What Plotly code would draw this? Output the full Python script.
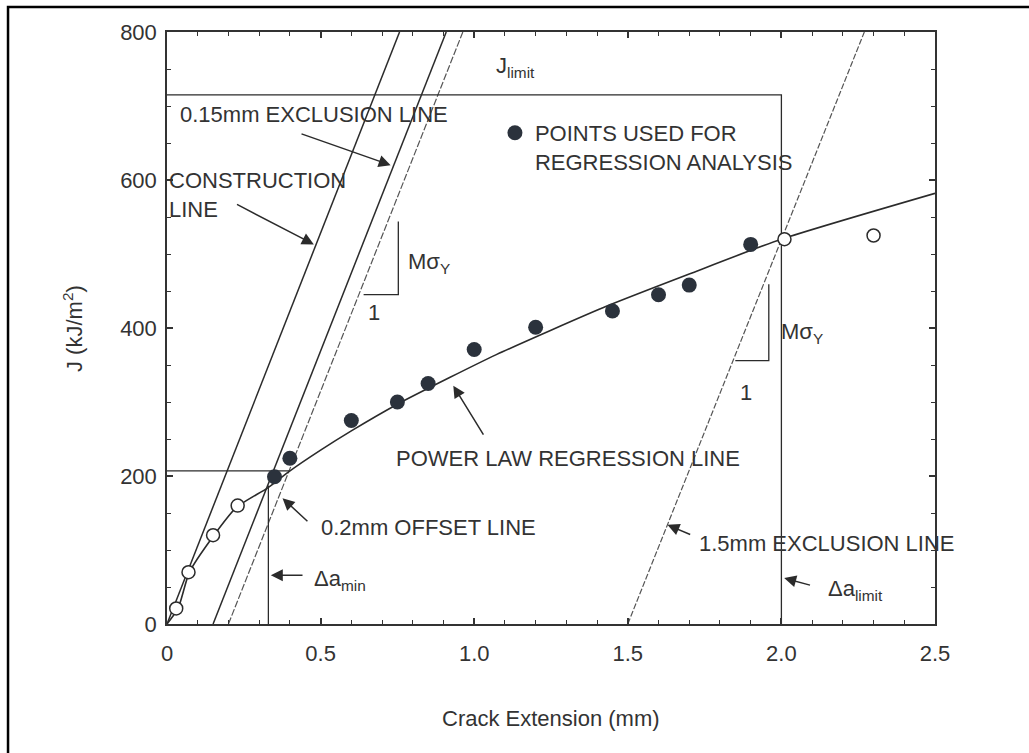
import plotly.graph_objects as go

# values
x_ticks = [0, 0.5, 1.0, 1.5, 2.0, 2.5]
x_tick_labels = ['0', '0.5', '1.0', '1.5', '2.0', '2.5']
y_ticks = [0, 200, 400, 600, 800]
y_tick_labels = ['0', '200', '400', '600', '800']

# points used for regression (filled) and excluded points (open)
used_x = [0.35, 0.40, 0.60, 0.75, 0.85, 1.00, 1.20, 1.45, 1.60, 1.70, 1.90]
used_j = [199, 224, 275, 300, 325, 371, 401, 423, 445, 458, 513]
excluded_x = [0.03, 0.07, 0.15, 0.23, 2.01, 2.30]
excluded_j = [21, 70, 120, 160, 520, 525]

# power law regression curve
curve_x = [0, 0.036, 0.073, 0.153, 0.227, 0.328, 0.397, 0.50, 0.60, 0.75, 0.92, 1.072, 1.25, 1.434, 1.70, 2.00, 2.50]
curve_j = [0, 21, 70, 120, 158, 184, 206, 235, 261, 297, 333, 364, 397, 430, 473, 520, 582]

# straight construction lines
constr_x = [0, 0.757]
constr_j = [0, 800]
excl_015_x = [0.15, 0.909]
excl_015_j = [0, 800]
offset_02_x = [0.2, 0.963]
offset_02_j = [0, 800]
excl_15_x = [1.5, 2.27]
excl_15_j = [0, 800]
jlimit_x = [0, 2.0, 2.0]
jlimit_j = [715, 715, 0]
jq_x = [0, 0.398]
jq_j = [207, 207]
damin_x = [0.33, 0.33]
damin_j = [0, 187]

# slope triangles (M sigma_Y over 1)
tri1_x = [0.64, 0.753, 0.753]
tri1_j = [445, 445, 544]
tri2_x = [1.85, 1.959, 1.959]
tri2_j = [356, 356, 459]

ink = '#2b2b2b'
grey = '#555555'
font_family = 'Arial, Liberation Sans, sans-serif'

fig = go.Figure()

def add_line(x, y, color=ink, width=1.5, dash='solid'):
    fig.add_trace(go.Scatter(x=x, y=y, mode='lines', showlegend=False, hoverinfo='skip',
                             line=dict(color=color, width=width, dash=dash)))

add_line(constr_x, constr_j)
add_line(excl_015_x, excl_015_j)
add_line(offset_02_x, offset_02_j, color=grey, width=1.2, dash='7px,2px')
add_line(excl_15_x, excl_15_j, color=grey, width=1.2, dash='6px,2px')
add_line(jlimit_x, jlimit_j, width=1.3)
add_line(jq_x, jq_j, width=1.3)
add_line(damin_x, damin_j, width=1.3)
add_line(tri1_x, tri1_j, width=1.3)
add_line(tri2_x, tri2_j, width=1.3)

fig.add_trace(go.Scatter(x=curve_x, y=curve_j, mode='lines', showlegend=False, hoverinfo='skip',
                         line=dict(color=ink, width=1.6, shape='spline', smoothing=0.6)))

fig.add_trace(go.Scatter(x=excluded_x, y=excluded_j, mode='markers', showlegend=False,
                         marker=dict(size=13, color='white', line=dict(color=ink, width=1.5))))

fig.add_trace(go.Scatter(x=used_x, y=used_j, mode='markers',
                         name='POINTS USED FOR<br>REGRESSION ANALYSIS',
                         marker=dict(size=15, color='#2b323c')))

txt = dict(family=font_family, size=22, color='#333333')

def label(x, y, text, xanchor='left', yanchor='middle', align='left'):
    fig.add_annotation(x=x, y=y, text=text, showarrow=False, xanchor=xanchor, yanchor=yanchor,
                       align=align, font=txt)

def arrow(x_head, y_head, x_tail, y_tail):
    fig.add_annotation(x=x_head, y=y_head, ax=x_tail, ay=y_tail, axref='x', ayref='y',
                       text='', showarrow=True, arrowhead=2, arrowsize=1.6, arrowwidth=1.5,
                       arrowcolor=ink)

label(0.035, 688, '0.15mm EXCLUSION LINE')
arrow(0.728, 620, 0.433, 663)
label(0.0, 580, 'CONSTRUCTION<br>LINE')
arrow(0.478, 513, 0.223, 568)
label(0.779, 488, 'Mσ<sub>Y</sub>')
label(0.675, 421, '1', xanchor='center')
label(1.993, 393, 'Mσ<sub>Y</sub>')
label(1.884, 313, '1', xanchor='center')
label(0.740, 224, 'POWER LAW REGRESSION LINE')
arrow(0.932, 322, 1.033, 254)
label(0.494, 130, '0.2mm OFFSET LINE')
arrow(0.376, 170, 0.462, 137)
label(0.471, 60, 'Δa<sub>min</sub>')
arrow(0.338, 66, 0.446, 66)
label(1.725, 109, '1.5mm EXCLUSION LINE')
arrow(1.629, 134, 1.708, 120)
label(2.146, 46, 'Δa<sub>limit</sub>')
arrow(2.009, 62, 2.098, 52)
label(1.066, 753, 'J<sub>limit</sub>')
label(-0.006, 228, 'J<sub>Q</sub>', xanchor='right')

# axis titles
title_font = dict(family=font_family, size=22, color='#333333')
fig.add_annotation(xref='paper', yref='paper', x=0.5, y=-0.159, text='Crack Extension (mm)',
                   showarrow=False, xanchor='center', yanchor='middle', font=title_font)
fig.add_annotation(xref='paper', yref='paper', x=-0.1224, y=0.5, text='J (kJ/m<sup>2</sup>)',
                   showarrow=False, textangle=-90, xanchor='center', yanchor='middle', font=title_font)

# outer frame of the scanned page (only left and top edges fall inside the picture)
fig.add_shape(type='rect', xref='paper', yref='paper', x0=-0.207, y0=-0.35, x1=1.2, y1=1.0422,
              line=dict(color='black', width=2.5))

axis_common = dict(showgrid=False, zeroline=False, showline=True, linecolor='#333333', linewidth=1.5,
                   mirror='ticks', ticks='inside', tickcolor='#333333', tickwidth=1.5,
                   tickfont=dict(family=font_family, size=22, color='#333333'))

fig.update_xaxes(range=[0, 2.5], tickvals=x_ticks, ticktext=x_tick_labels, ticklen=6,
                 ticklabelstandoff=9,
                 minor=dict(dtick=0.1, ticks='inside', ticklen=4, tickcolor='#333333', tickwidth=1.2),
                 **axis_common)
fig.update_yaxes(range=[0, 800], tickvals=y_ticks, ticktext=y_tick_labels, ticklen=6,
                 ticklabelstandoff=4,
                 minor=dict(dtick=50, ticks='inside', ticklen=4, tickcolor='#333333', tickwidth=1.2),
                 **axis_common)

fig.update_layout(width=1029, height=753, margin=dict(l=167, r=94, t=32, b=129),
                  plot_bgcolor='white', paper_bgcolor='white',
                  legend=dict(x=0.427, y=0.865, xanchor='left', yanchor='top', valign='top',
                              bgcolor='rgba(0,0,0,0)', font=dict(family=font_family, size=22, color='#333333')))

fig.write_html('out.html', config={'displayModeBar': False},
               post_script="document.body.style.margin='0px';")
